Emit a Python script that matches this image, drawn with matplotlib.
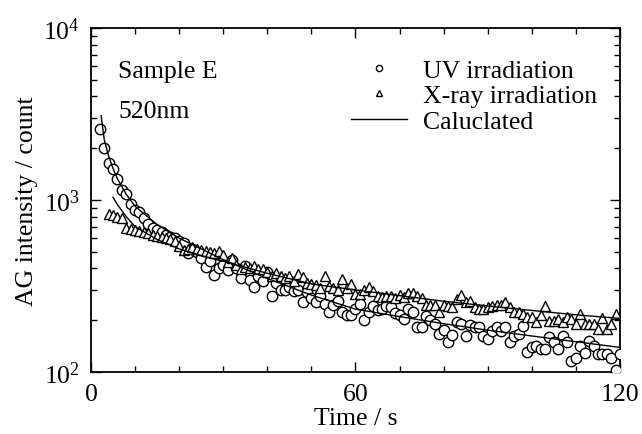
import matplotlib
matplotlib.use("Agg")
import matplotlib.pyplot as plt
import numpy as np
from matplotlib.ticker import LogLocator, FixedLocator, MultipleLocator, LogFormatterMathtext, NullFormatter

plt.rcParams['font.family'] = ['Liberation Serif', 'DejaVu Serif']
plt.rcParams['mathtext.fontset'] = 'custom'
plt.rcParams['mathtext.rm'] = 'Liberation Serif'
plt.rcParams['mathtext.it'] = 'Liberation Serif:italic'

FS = 18.5

# UV irradiation, one point per second from t = 2 s
uv_t = list(range(2, 121))
uv_counts = [2590, 2000, 1640, 1520, 1330, 1150, 1080, 950, 880, 850,
             790, 730, 690, 670, 650, 630, 610, 600, 575, 560,
             490, 520, 500, 460, 410, 440, 365, 400, 420, 390,
             450, 400, 350, 415, 345, 310, 360, 340, 380, 275,
             330, 300, 300, 310, 295, 300, 255, 290, 270, 255,
             275, 250, 223, 245, 259, 223, 214, 214, 232, 248,
             200, 223, 242, 228, 232, 242, 239, 220, 215, 204,
             232, 223, 183, 183, 212, 200, 190, 166, 175, 149,
             164, 195, 190, 162, 188, 183, 183, 162, 156, 173,
             183, 173, 183, 149, 162, 166, 185, 131, 140, 142,
             136, 136, 160, 149, 136, 162, 149, 116, 120, 142,
             129, 151, 142, 127, 127, 127, 120, 103, 127]

# X-ray irradiation, one point per second from t = 4 s
xr_t = list(range(4, 120))
xr_counts = [830, 820, 800, 790, 690, 680, 670, 660, 650, 640,
             630, 620, 610, 600, 590, 575, 540, 510, 520, 530,
             519, 510, 505, 497, 490, 505, 480, 435, 460, 420,
             398, 410, 400, 415, 395, 398, 383, 363, 375, 363,
             350, 363, 340, 372, 355, 330, 325, 320, 308, 361,
             316, 308, 300, 348, 308, 325, 284, 284, 300, 312,
             295, 277, 273, 277, 277, 269, 281, 273, 288, 288,
             277, 269, 245, 245, 245, 223, 245, 242, 239, 266,
             281, 255, 259, 239, 232, 232, 239, 242, 245, 245,
             255, 239, 223, 223, 217, 209, 209, 195, 214, 242,
             198, 198, 203, 195, 209, 203, 190, 217, 190, 190,
             190, 178, 206, 178, 190, 217]

# calculated curves
uv_fit_t = [2.3, 3, 4, 5, 6, 8, 10, 15, 20, 25, 30, 40, 50, 60, 70, 80, 90, 100, 110, 120]
uv_fit = [3090, 2250, 1800, 1530, 1330, 1080, 920, 720, 600, 520, 450, 350, 280, 232, 210, 191, 175, 162, 150, 139]
xr_fit_t = [5, 6, 8, 10, 15, 20, 25, 30, 40, 50, 60, 70, 80, 90, 100, 110, 120]
xr_fit = [1037, 940, 800, 700, 590, 520, 475, 440, 375, 325, 300, 278, 258, 242, 228, 215, 205]

fig = plt.figure(figsize=(6.42, 4.35), dpi=100)
ax = fig.add_axes([0.1417, 0.1425, 0.824, 0.7908])

ax.plot(uv_t, uv_counts, linestyle='none', marker='o', markersize=7.5,
        markerfacecolor='white', markeredgecolor='black', markeredgewidth=1.0,
        label='UV irradiation', zorder=3)
ax.plot(xr_t, xr_counts, linestyle='none', marker='^', markersize=7.5,
        markerfacecolor='white', markeredgecolor='black', markeredgewidth=1.0,
        label='X-ray irradiation', zorder=3)
ax.plot(uv_fit_t, uv_fit, color='black', linewidth=1.0, label='Caluclated', zorder=4)
ax.plot(xr_fit_t, xr_fit, color='black', linewidth=1.0, zorder=4)

ax.set_yscale('log')
ax.set_xlim(0, 120)
ax.set_ylim(100, 10000)

ax.xaxis.set_major_locator(FixedLocator([0, 60, 120]))
ax.xaxis.set_minor_locator(MultipleLocator(10))
ax.yaxis.set_major_locator(LogLocator(base=10))
ax.yaxis.set_major_formatter(LogFormatterMathtext())
ax.yaxis.set_minor_locator(LogLocator(base=10, subs=np.arange(2, 10)))
ax.yaxis.set_minor_formatter(NullFormatter())

ax.tick_params(which='both', direction='in', top=True, right=True, labelsize=FS, width=1.0)
ax.tick_params(which='major', length=7, pad=8)
ax.tick_params(which='minor', length=4)
for s in ax.spines.values():
    s.set_linewidth(1.3)

ax.set_xlabel('Time / s', fontsize=FS, labelpad=1)
ax.set_ylabel('AG intensity / count', fontsize=FS, labelpad=4)

ax.text(0.052, 0.875, 'Sample E', transform=ax.transAxes, fontsize=FS, va='center')
ax.text(0.052, 0.76, '520nm', transform=ax.transAxes, fontsize=FS, va='center')

leg = ax.legend(loc='upper right', bbox_to_anchor=(0.985, 0.955), frameon=False, fontsize=FS,
                markerscale=0.6, handlelength=2.2, handletextpad=0.6,
                borderaxespad=0.2, labelspacing=0.1)

fig.savefig('out.png', dpi=100)
